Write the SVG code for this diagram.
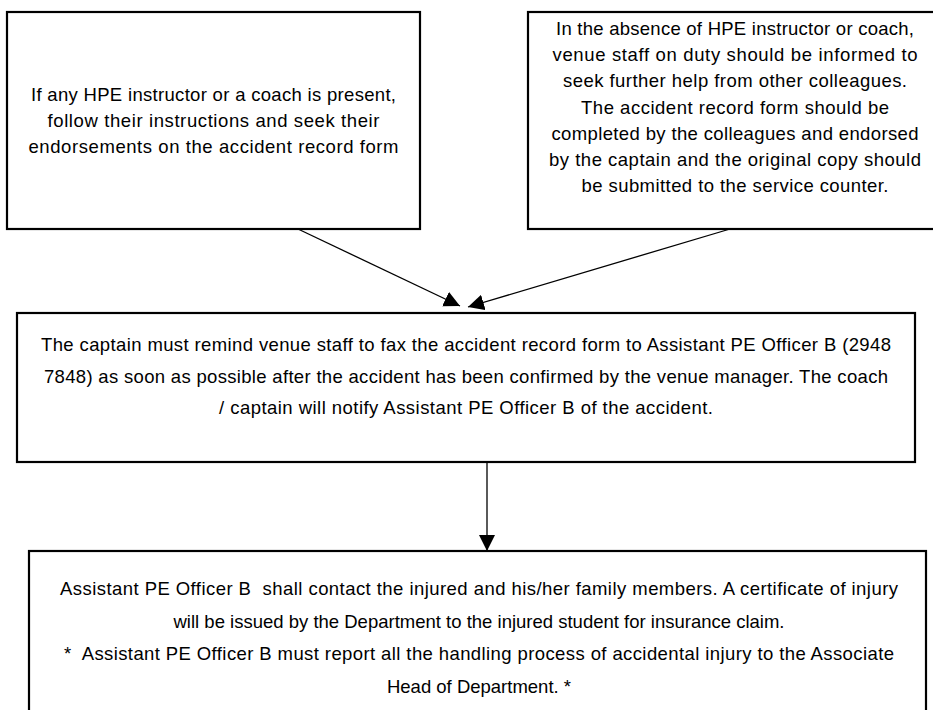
<svg xmlns="http://www.w3.org/2000/svg" width="933" height="710" viewBox="0 0 933 710">
  <style>
    .box { fill: #ffffff; stroke: #000000; stroke-width: 2.2; }
    .lbl { font-family: "Liberation Sans", Arial, sans-serif; font-size: 18.5px; fill: #000000; text-anchor: middle; white-space: pre; }
    .link { fill: none; stroke: #000000; stroke-width: 1.3; }
  </style>
  <defs>
    <marker id="arrow" viewBox="0 0 16 16" markerWidth="16" markerHeight="16" refX="16" refY="8" orient="auto" markerUnits="userSpaceOnUse">
      <path d="M0,0 L16,8 L0,16 z" fill="#000000"/>
    </marker>
  </defs>

  <rect width="933" height="710" fill="#ffffff"/>

  <!-- case: instructor or coach present -->
  <g id="coach-present">
    <rect class="box" x="7" y="12" width="413" height="217"/>
    <text class="lbl" x="213.5" y="101" textLength="365">If any HPE instructor or a coach is present,</text>
    <text class="lbl" x="213.5" y="127" textLength="332">follow their instructions and seek their</text>
    <text class="lbl" x="213.5" y="153" textLength="370">endorsements on the accident record form</text>
  </g>

  <!-- case: no instructor or coach -->
  <g id="coach-absent">
    <rect class="box" x="528" y="12" width="414" height="217"/>
    <text class="lbl" x="735" y="35" textLength="358">In the absence of HPE instructor or coach,</text>
    <text class="lbl" x="735" y="61" textLength="365">venue staff on duty should be informed to</text>
    <text class="lbl" x="735" y="87" textLength="344">seek further help from other colleagues.</text>
    <text class="lbl" x="735" y="113.5" textLength="308">The accident record form should be</text>
    <text class="lbl" x="735" y="139.5" textLength="367">completed by the colleagues and endorsed</text>
    <text class="lbl" x="735" y="166" textLength="372">by the captain and the original copy should</text>
    <text class="lbl" x="735" y="192" textLength="307">be submitted to the service counter.</text>
  </g>

  <!-- fax the form and notify the officer -->
  <g id="fax-notify">
    <rect class="box" x="17" y="313" width="898" height="149"/>
    <text class="lbl" x="466" y="351" textLength="850">The captain must remind venue staff to fax the accident record form to Assistant PE Officer B (2948</text>
    <text class="lbl" x="466" y="383" textLength="844">7848) as soon as possible after the accident has been confirmed by the venue manager. The coach</text>
    <text class="lbl" x="466" y="414" textLength="494">/ captain will notify Assistant PE Officer B of the accident.</text>
  </g>

  <!-- officer follow-up -->
  <g id="officer-follow-up">
    <rect class="box" x="29" y="551" width="897" height="180"/>
    <text class="lbl" x="479" y="595" textLength="838">Assistant PE Officer B  shall contact the injured and his/her family members. A certificate of injury</text>
    <text class="lbl" x="479" y="627.5" textLength="611">will be issued by the Department to the injured student for insurance claim.</text>
    <text class="lbl" x="479" y="660" textLength="830">*  Assistant PE Officer B must report all the handling process of accidental injury to the Associate</text>
    <text class="lbl" x="479" y="692.5">Head of Department. *</text>
  </g>

  <!-- connectors -->
  <g id="connectors">
    <line class="link" x1="298" y1="229" x2="460" y2="306" marker-end="url(#arrow)"/>
    <line class="link" x1="730" y1="229" x2="468" y2="307" marker-end="url(#arrow)"/>
    <line class="link" x1="487" y1="462" x2="487" y2="551" marker-end="url(#arrow)"/>
  </g>
</svg>
